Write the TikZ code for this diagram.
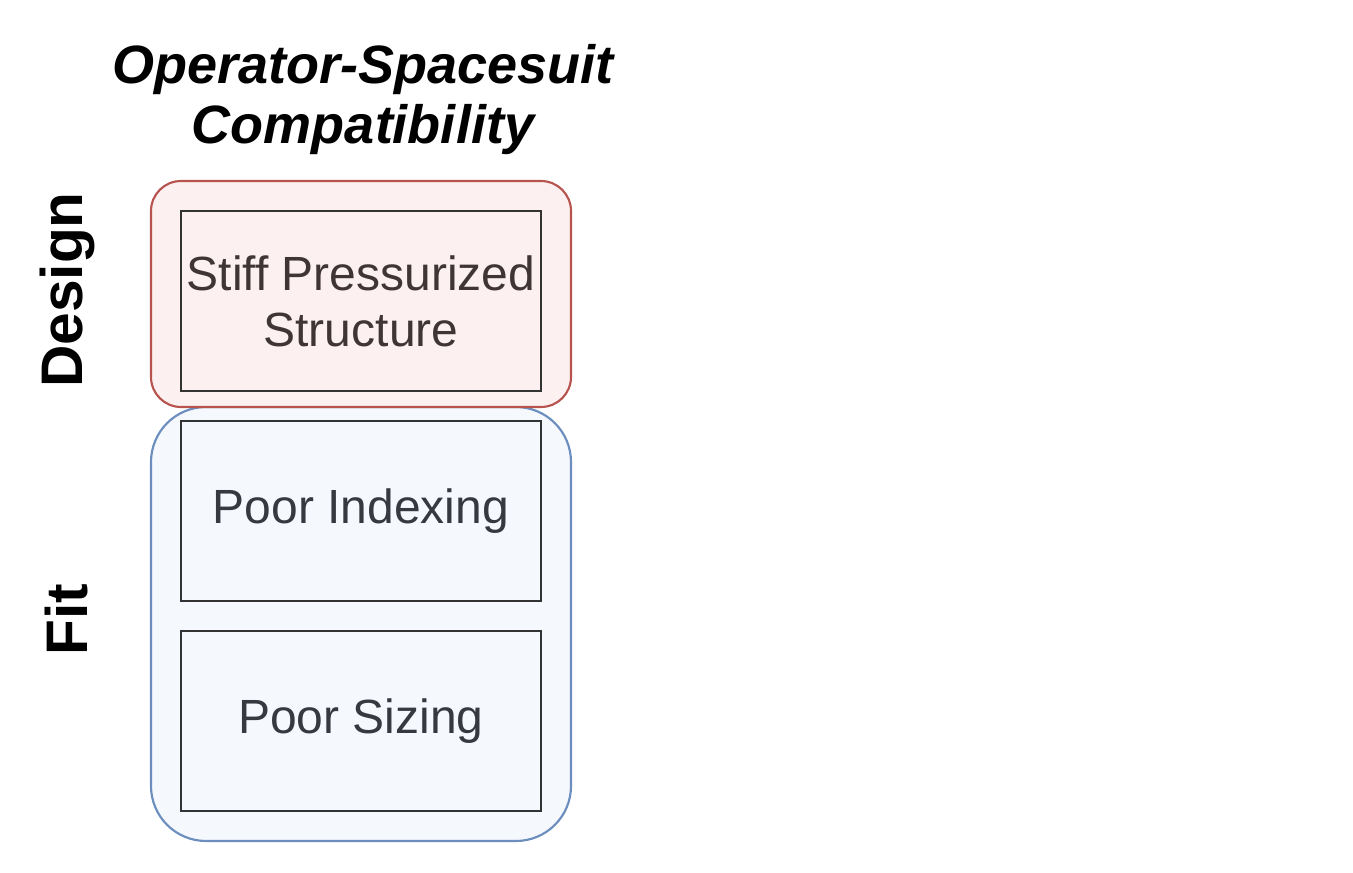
\documentclass[tikz,border=0pt]{standalone}
\usepackage{fontspec}
\setmainfont{Liberation Sans}
\definecolor{redstroke}{HTML}{B85450}
\definecolor{redfill}{HTML}{FCF1F0}
\definecolor{bluestroke}{HTML}{6C8EBF}
\definecolor{bluefill}{HTML}{F5F8FD}
\definecolor{redtext}{HTML}{3F3535}
\definecolor{bluetext}{HTML}{36393F}
\definecolor{boxline}{HTML}{333333}
\begin{document}
\begin{tikzpicture}[x=0.75pt,y=-0.75pt,
  group/.style={draw, line width=1.6pt, minimum width=420*0.75pt, inner sep=0pt, outer sep=0pt},
  item/.style={draw=boxline, line width=2.1pt, minimum width=360*0.75pt, minimum height=180*0.75pt, inner sep=0pt, outer sep=0pt, align=center, font=\fontsize{36}{42}\selectfont},
  side/.style={rotate=90, font=\fontsize{44}{50}\selectfont\bfseries}
]
\useasboundingbox (0,0) rectangle (1353,873);
\node[group, draw=bluestroke, fill=bluefill, rounded corners=55*0.75pt, minimum height=434*0.75pt] (fitgrp) at (361,624) {};
\node[group, draw=redstroke, fill=redfill, rounded corners=30*0.75pt, minimum height=226*0.75pt] (desgrp) at (361,294) {};
\node[item, text=redtext] (stiff) at (361,301) {Stiff Pressurized\\Structure};
\node[item, text=bluetext] (index) at (361,511) {Poor Indexing};
\node[item, text=bluetext] (size) at (361,721) {Poor Sizing};
\node[align=center, font=\fontsize{40.5}{45}\selectfont\bfseries\itshape] (title) at (363,100) {Operator-Spacesuit\\Compatibility};
\node[side] (design) at (67,290) {Design};
\node[side] (fit) at (67,620) {Fit};
\end{tikzpicture}
\end{document}
